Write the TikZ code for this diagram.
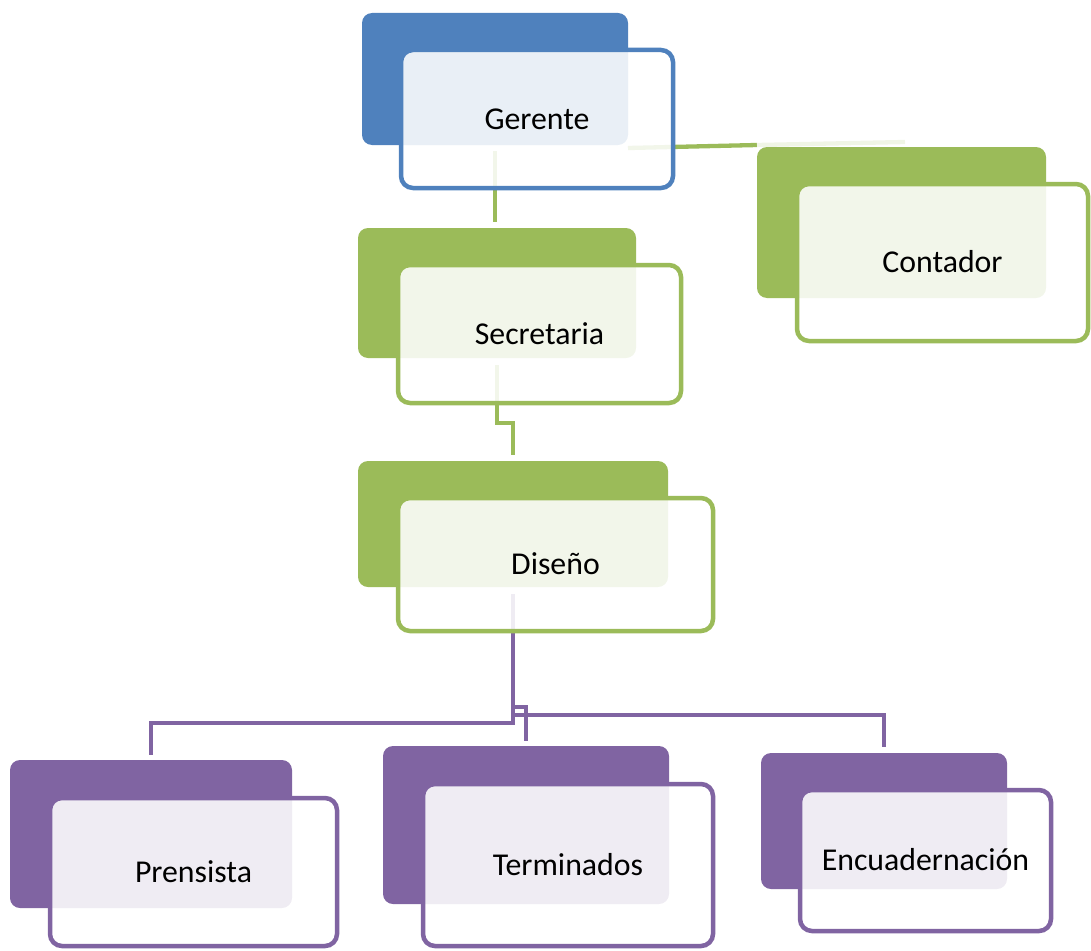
\documentclass[tikz,border=0pt]{standalone}
\usepackage{fontspec}
\setmainfont{Carlito}
\pgfdeclarelayer{bg}
\pgfsetlayers{bg,main}
\definecolor{cblue}{HTML}{4F81BD}
\definecolor{cgreen}{HTML}{9BBB59}
\definecolor{cpurple}{HTML}{8064A2}
\tikzset{
  backbox/.style={fill=#1, rounded corners=10pt, inner sep=0pt, outer sep=0pt},
  frontbox/.style={draw=#1, line width=4.5pt, fill=white, fill opacity=0.88, text opacity=1,
    rounded corners=12pt, inner sep=0pt, outer sep=0pt, text height=20pt, text depth=0pt,
    font=\fontsize{31.8}{38}\selectfont},
  conn/.style={draw=#1, line width=4.3pt}
}
\begin{document}
\begin{tikzpicture}[x=1pt,y=-1pt]
\useasboundingbox (0,0) rectangle (1091,950);
% Gerente
\node[backbox=cblue, minimum width=266pt, minimum height=132pt] (gb) at (495,79) {};
\node[frontbox=cblue, minimum width=272pt, minimum height=138pt] (gf) at (537,119) {Gerente};
% Contador
\node[backbox=cgreen, minimum width=289pt, minimum height=151pt] (cb) at (901.5,222.5) {};
\node[frontbox=cgreen, minimum width=291pt, minimum height=157pt] (cf) at (942.5,262.5) {Contador};
% Secretaria
\node[backbox=cgreen, minimum width=278pt, minimum height=130pt] (sb) at (497,293) {};
\node[frontbox=cgreen, minimum width=283pt, minimum height=138pt] (sf) at (539.5,334) {Secretaria};
% Diseno
\node[backbox=cgreen, minimum width=310pt, minimum height=126pt] (db) at (513,524) {};
\node[frontbox=cgreen, minimum width=315pt, minimum height=133pt] (df) at (555.5,564.5) {Diseño};
% Prensista
\node[backbox=cpurple, minimum width=282pt, minimum height=148pt] (pb) at (151,834) {};
\node[frontbox=cpurple, minimum width=287pt, minimum height=148pt] (pf) at (193.5,872) {Prensista};
% Terminados
\node[backbox=cpurple, minimum width=286pt, minimum height=158pt] (tb) at (526,825) {};
\node[frontbox=cpurple, minimum width=290pt, minimum height=162pt] (tf) at (568,865) {Terminados};
% Encuadernacion
\node[backbox=cpurple, minimum width=246pt, minimum height=136pt] (eb) at (884,821) {};
\node[frontbox=cpurple, minimum width=251pt, minimum height=141pt] (ef) at (925.5,860.5) {Encuadernación};
% connectors (behind boxes)
\begin{pgfonlayer}{bg}
  \draw[conn=cgreen] ([yshift=-6pt]gb.south) -- ([yshift=6pt]gb.south |- sb.north);
  \draw[conn=cgreen] ([yshift=-3pt]gb.south east) -- ([yshift=2pt]cb.north west);
  \draw[conn=cgreen!15] ([yshift=2pt]cb.north west) -- ([xshift=148pt,yshift=5pt]cb.north west);
  \draw[conn=cgreen] ([yshift=-7pt]sb.south) -- ++(0,-58pt) -| ([yshift=6pt]db.north);
  \draw[conn=cpurple] ([yshift=-7pt]db.south) -- ([yshift=-136pt]db.south) -| ([yshift=5pt]pb.north);
  \draw[conn=cpurple] ([yshift=-120pt]db.south) -| ([yshift=5pt]tb.north);
  \draw[conn=cpurple] ([yshift=-128pt]db.south) -| ([yshift=6pt]eb.north);
\end{pgfonlayer}
\end{tikzpicture}
\end{document}
